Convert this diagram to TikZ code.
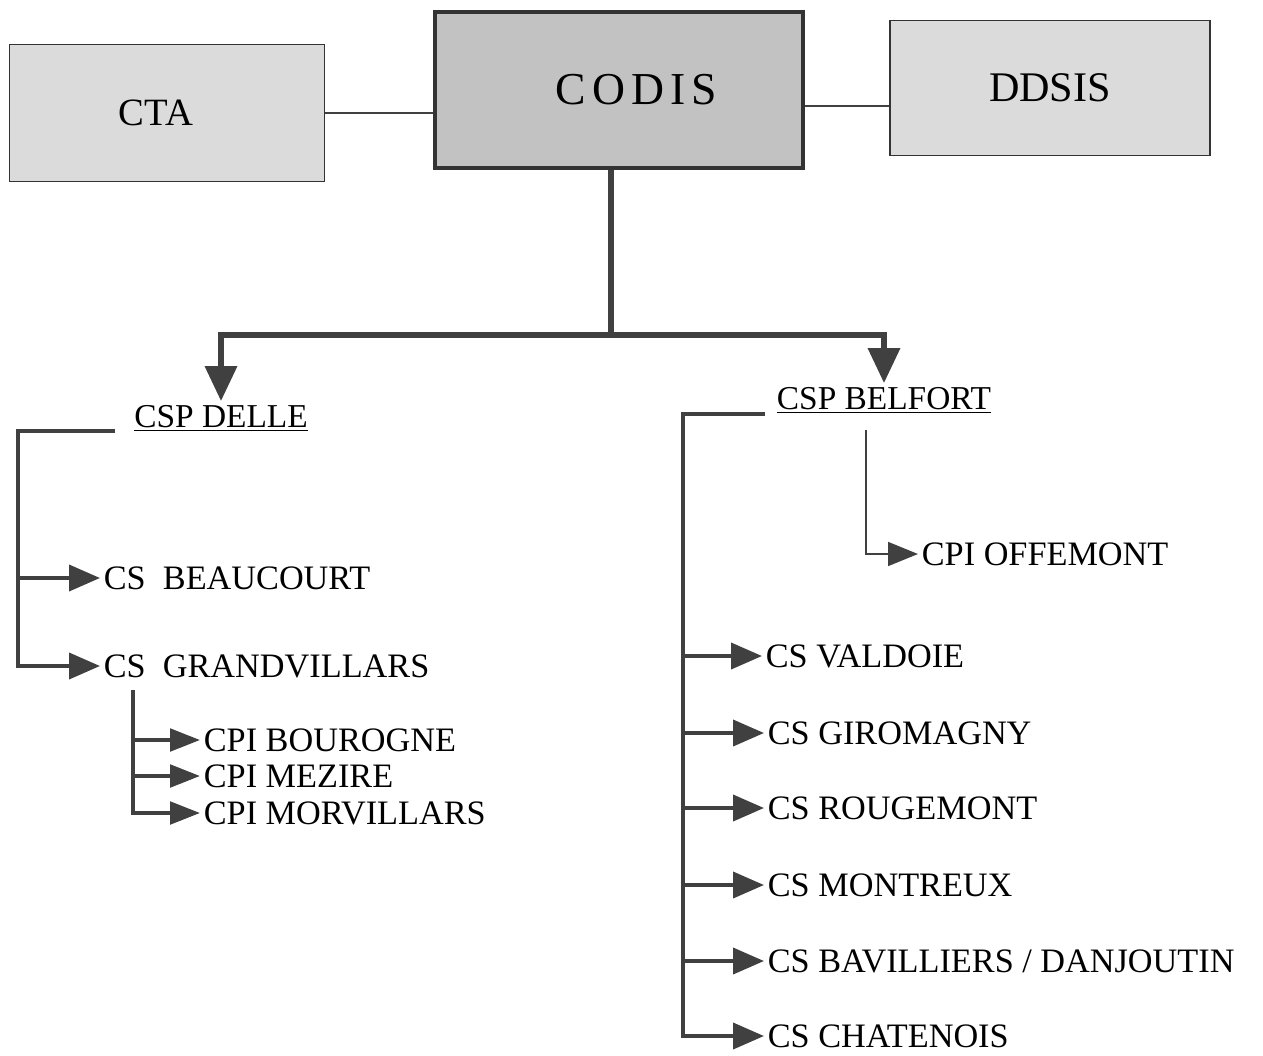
\documentclass[tikz,border=0pt]{standalone}
\usepackage{fontspec}
\setmainfont{Liberation Serif}
\usetikzlibrary{positioning, arrows.meta}

\begin{document}
\begin{tikzpicture}[
    x=0.02cm, y=-0.02cm,
    box/.style={draw=black!80, line width=1.1pt, fill=gray!28, inner sep=0pt,
                font=\fontsize{22}{24}\selectfont},
    head/.style={inner sep=2pt, font=\fontsize{19}{21}\selectfont},
    unit/.style={anchor=west, inner sep=2pt, font=\fontsize{19.5}{21}\selectfont},
    link/.style={draw=black!75, line width=1pt},
    trunk/.style={draw=black!75, line width=3.6pt},
    trunkarr/.style={trunk, -{Triangle[length=0.7cm, width=0.62cm]}},
    brace/.style={draw=black!75, line width=2.2pt},
    arr/.style={brace, -{Triangle[length=0.62cm, width=0.52cm]}},
    subarr/.style={brace, -{Triangle[length=0.6cm, width=0.45cm]}},
    thinarr/.style={link, -{Triangle[length=0.6cm, width=0.48cm]}}]

  \useasboundingbox (0,0) rectangle (1263,1055);

  % === Top row: boxes ===
  \node[box, minimum width=6.3cm, minimum height=2.74cm] (cta) at (167,113)
        {CTA\hspace*{0.44cm}};
  \node[box, fill=gray!48, line width=1.8pt, minimum width=7.36cm, minimum height=3.12cm,
        font=\fontsize{26}{30}\selectfont] (codis) at (619,90)
        {\hspace*{0.7cm}C\kern3.5pt O\kern3.5pt D\kern3.5pt I\kern3.5pt S};
  \node[box, minimum width=6.4cm, minimum height=2.7cm,
        font=\fontsize{24}{26}\selectfont] (ddsis) at (1050,88) {DDSIS};

  \draw[link] (cta.east) -- (cta.east -| codis.west);
  \draw[link] (codis.east) ++(0,16) coordinate (c1) -- (c1 -| ddsis.west);

  % === Second level ===
  \node[head] (delle) at (221,418) {\underline{CSP DELLE}};
  \node[head] (belfort) at (884,400) {\underline{CSP BELFORT}};

  \coordinate (fork) at (611,335);
  \draw[trunk] (codis.south -| fork) -- (fork);
  \draw[trunkarr] (fork) -| (delle.north);
  \draw[trunkarr] (fork) -| (belfort.north);

  % === CSP DELLE branch ===
  \node[unit] (beau)  at (100,578) {CS\enspace BEAUCOURT};
  \node[unit] (grand) at (100,666) {CS\enspace GRANDVILLARS};
  \node[unit] (bour)  at (200,740) {CPI BOUROGNE};
  \node[unit] (mez)   at (200,776) {CPI MEZIRE};
  \node[unit] (morv)  at (200,813) {CPI MORVILLARS};

  \path (delle.base west) ++(-15,4) coordinate (ds) ++(-97,0) coordinate (dl);
  \draw[arr] (ds) -- (dl) |- (grand.west);
  \draw[arr] (dl |- beau.west) -- (beau.west);

  \coordinate (gv) at (133,690);
  \draw[subarr] (gv) |- (morv.west);
  \draw[subarr] (gv |- bour.west) -- (bour.west);
  \draw[subarr] (gv |- mez.west) -- (mez.west);

  % === CSP BELFORT branch ===
  \node[unit] (offe) at (918,554) {CPI OFFEMONT};
  \coordinate (bo) at (866,430);
  \draw[thinarr] (bo) |- (offe.west);

  \node[unit] (vald) at (762,656)  {CS VALDOIE};
  \node[unit] (giro) at (764,733)  {CS GIROMAGNY};
  \node[unit] (roug) at (764,808)  {CS ROUGEMONT};
  \node[unit] (mont) at (764,885)  {CS MONTREUX};
  \node[unit] (bavi) at (764,961)  {CS BAVILLIERS / DANJOUTIN};
  \node[unit] (chat) at (764,1036) {CS CHATENOIS};

  \path (belfort.base west) ++(-8,5) coordinate (bs) ++(-82,0) coordinate (bl);
  \draw[arr] (bs) -- (bl) |- (chat.west);
  \draw[arr] (bl |- vald.west) -- (vald.west);
  \draw[arr] (bl |- giro.west) -- (giro.west);
  \draw[arr] (bl |- roug.west) -- (roug.west);
  \draw[arr] (bl |- mont.west) -- (mont.west);
  \draw[arr] (bl |- bavi.west) -- (bavi.west);

\end{tikzpicture}
\end{document}
